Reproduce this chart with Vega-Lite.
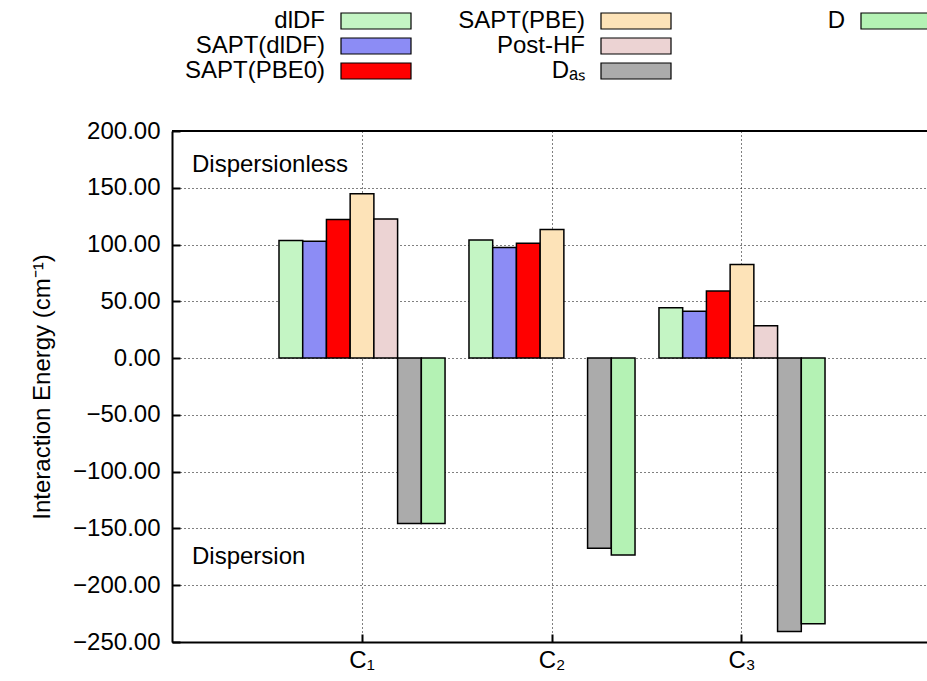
{
  "$schema": "https://vega.github.io/schema/vega-lite/v6.json",
  "width": 755,
  "height": 511,
  "autosize": {"type": "none"},
  "padding": {"left": 172, "top": 131, "right": 0, "bottom": 39},
  "background": "white",
  "config": {"view": {"stroke": null}, "font": "Liberation Sans"},
  "data": {"values": [
    {"cluster": "C₁", "method": "dlDF", "energy": 103.5},
    {"cluster": "C₁", "method": "SAPT(dlDF)", "energy": 103.0},
    {"cluster": "C₁", "method": "SAPT(PBE0)", "energy": 122.0},
    {"cluster": "C₁", "method": "SAPT(PBE)", "energy": 144.7},
    {"cluster": "C₁", "method": "Post-HF", "energy": 122.4},
    {"cluster": "C₁", "method": "Dₐₛ", "energy": -145.6},
    {"cluster": "C₁", "method": "D", "energy": -145.6},
    {"cluster": "C₂", "method": "dlDF", "energy": 104.0},
    {"cluster": "C₂", "method": "SAPT(dlDF)", "energy": 97.4},
    {"cluster": "C₂", "method": "SAPT(PBE0)", "energy": 101.2},
    {"cluster": "C₂", "method": "SAPT(PBE)", "energy": 113.2},
    {"cluster": "C₂", "method": "Dₐₛ", "energy": -167.4},
    {"cluster": "C₂", "method": "D", "energy": -173.4},
    {"cluster": "C₃", "method": "dlDF", "energy": 44.4},
    {"cluster": "C₃", "method": "SAPT(dlDF)", "energy": 41.2},
    {"cluster": "C₃", "method": "SAPT(PBE0)", "energy": 59.1},
    {"cluster": "C₃", "method": "SAPT(PBE)", "energy": 82.4},
    {"cluster": "C₃", "method": "Post-HF", "energy": 28.5},
    {"cluster": "C₃", "method": "Dₐₛ", "energy": -240.8},
    {"cluster": "C₃", "method": "D", "energy": -234.0}
  ]},
  "layer": [
    {
      "mark": {"type": "bar", "stroke": "black", "strokeWidth": 1.5},
      "encoding": {
        "x": {
          "field": "cluster", "type": "nominal",
          "scale": {"domain": ["C₁", "C₂", "C₃"], "paddingInner": 0.126, "paddingOuter": 0.55, "align": 0.512},
          "axis": {
            "title": null, "labelAngle": 0, "labelFontSize": 24, "labelColor": "black",
            "labelPadding": 14, "tickSize": -8, "tickWidth": 2, "tickColor": "black",
            "domainColor": "black", "domainWidth": 2, "bandPosition": 0.5,
            "grid": true, "gridColor": "black", "gridDash": [1, 3], "gridWidth": 1, "gridOpacity": 1
          }
        },
        "xOffset": {
          "field": "method", "type": "nominal",
          "scale": {"domain": ["dlDF", "SAPT(dlDF)", "SAPT(PBE0)", "SAPT(PBE)", "Post-HF", "Dₐₛ", "D"], "paddingInner": 0, "paddingOuter": 0}
        },
        "y": {
          "field": "energy", "type": "quantitative",
          "scale": {"domain": [-250, 200], "nice": false, "zero": false},
          "axis": {
            "values": [-250, -200, -150, -100, -50, 0, 50, 100, 150, 200],
            "format": ".2f", "labelFontSize": 24, "labelColor": "black", "labelPadding": 20,
            "tickSize": -8, "tickWidth": 2, "tickColor": "black",
            "domainColor": "black", "domainWidth": 2,
            "grid": true, "gridColor": "black", "gridDash": [1, 3], "gridWidth": 1, "gridOpacity": 1,
            "title": "Interaction Energy (cm⁻¹)", "titleFontSize": 24, "titleFontWeight": "normal",
            "titleColor": "black", "titlePadding": 18
          }
        },
        "fill": {
          "field": "method", "type": "nominal",
          "scale": {
            "domain": ["dlDF", "SAPT(PBE)", "D", "SAPT(dlDF)", "Post-HF", " ", "SAPT(PBE0)", "Dₐₛ"],
            "range": ["#c4f5c4", "#fde3b8", "#b4f2b4", "#8c8cf5", "#ecd3d3", "#ffffff", "#ff0000", "#ababab"]
          },
          "legend": {
            "orient": "none", "direction": "horizontal", "legendX": 168, "legendY": -123, "columns": 3,
            "title": null, "symbolType": "M-2.917,-0.667H2.917V0.667H-2.917Z", "symbolSize": 576,
            "symbolOffset": 23,
            "symbolStrokeColor": "black", "symbolStrokeWidth": 1.2,
            "labelFontSize": 24, "labelColor": "black", "labelAlign": "right", "labelOffset": -64,
            "gridAlign": "all",
            "columnPadding": 44, "rowPadding": 0, "labelLimit": 300,
            "encode": {
              "symbols": {"update": {"opacity": {"signal": "datum.value === ' ' ? 0 : 1"}}}
            }
          }
        }
      }
    },
    {
      "data": {"values": [{}]},
      "mark": {"type": "rule", "color": "black", "strokeWidth": 2},
      "encoding": {"y": {"datum": 200}}
    },
    {
      "data": {"values": [
        {"note": "Dispersionless", "level": 170},
        {"note": "Dispersion", "level": -175}
      ]},
      "mark": {"type": "text", "align": "left", "baseline": "middle", "fontSize": 24, "color": "black", "dx": 20},
      "encoding": {
        "x": {"value": 0},
        "y": {"field": "level", "type": "quantitative"},
        "text": {"field": "note"}
      }
    }
  ]
}
